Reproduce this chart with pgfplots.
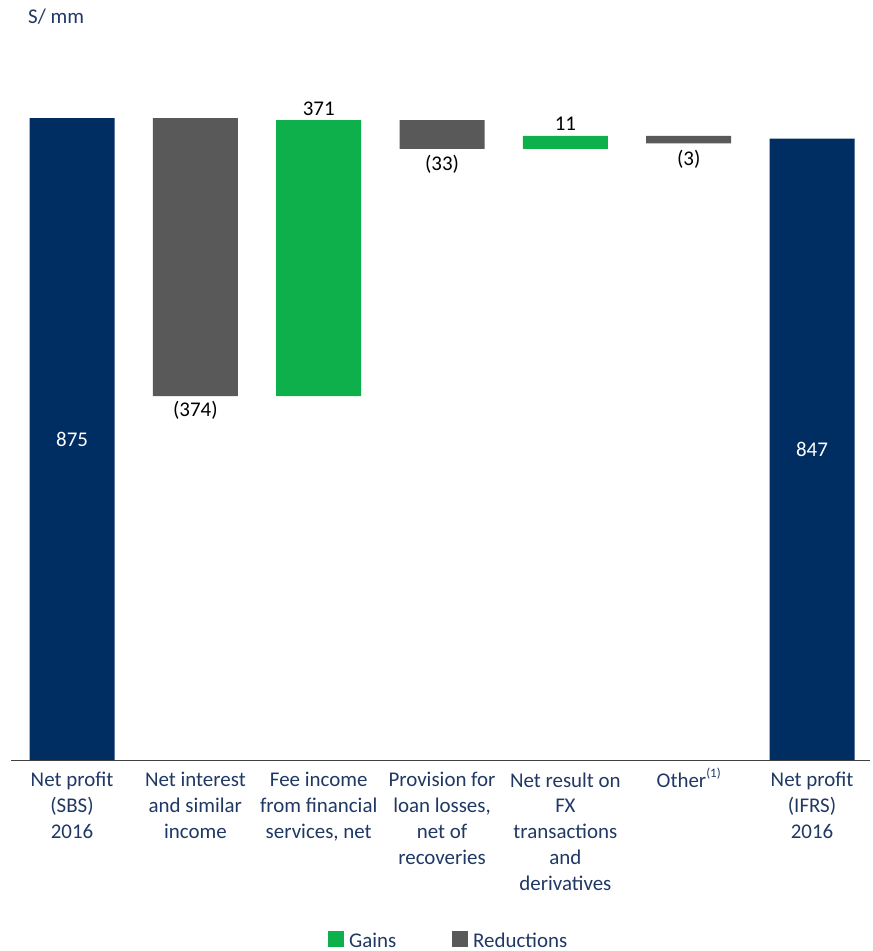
\documentclass[border=0pt]{standalone}
\usepackage{fontspec}
\setmainfont{Carlito}
\usepackage{pgfplots}
\pgfplotsset{compat=1.18}
\definecolor{navy}{HTML}{002D62}
\definecolor{rgray}{HTML}{595959}
\definecolor{rgreen}{HTML}{0DB04B}
\definecolor{txt}{HTML}{1F3864}
\definecolor{axgray}{HTML}{404040}
\newcommand{\bigf}{\fontsize{21}{26}\selectfont}
\newcommand{\supone}{\smash{\raisebox{0.45em}{\fontsize{13}{13}\selectfont(1)}}}
\begin{document}
\begin{tikzpicture}
\path[use as bounding box] (0bp,0bp) rectangle (873bp,951bp);
\begin{axis}[
  at={(11bp,191bp)}, anchor=south west,
  scale only axis, width=859bp, height=733.7bp,
  xmin=-0.495, xmax=6.47, ymin=0, ymax=1000,
  ybar stacked, bar width=85bp,
  axis x line*=bottom, axis y line=none,
  x axis line style={-, draw=axgray, line width=1pt},
  xtick={0,1,2,3,4,5,6}, major tick length=0pt,
  xticklabels={{Net profit\\(SBS)\\2016},{Net interest\\and similar\\income},{Fee income\\from financial\\services, net},{Provision for\\loan losses,\\net of\\recoveries},{Net result on\\FX\\transactions\\and\\derivatives},{Other\supone},{Net profit\\(IFRS)\\2016}},
  xticklabel style={align=center, text=txt, font=\bigf, anchor=north, yshift=-9bp, text depth=0.25em},
  ytick=\empty,
  clip=false,
]
\addplot[draw=none, fill=white, fill opacity=0] coordinates {(0,0) (1,496) (2,496) (3,833) (4,833) (5,840.5) (6,0)};
\addplot[draw=none, fill=navy] coordinates {(0,875) (1,0) (2,0) (3,0) (4,0) (5,0) (6,847)};
\addplot[draw=none, fill=rgray] coordinates {(0,0) (1,379) (2,0) (3,39) (4,0) (5,10) (6,0)};
\addplot[draw=none, fill=rgreen] coordinates {(0,0) (1,0) (2,376) (3,0) (4,17.5) (5,0) (6,0)};
\coordinate (l0) at (axis cs:0,437.5);
\coordinate (l6) at (axis cs:6,423.5);
\coordinate (l1) at (axis cs:1,496);
\coordinate (l2) at (axis cs:2,872);
\coordinate (l3) at (axis cs:3,833);
\coordinate (l4) at (axis cs:4,850.5);
\coordinate (l5) at (axis cs:5,840.5);
\end{axis}
\node[text=white, font=\bigf] at (l0) {875};
\node[text=white, font=\bigf] at (l6) {847};
\node[anchor=north, font=\bigf, yshift=-2bp] at (l1) {(374)};
\node[anchor=south, font=\bigf, yshift=1bp] at (l2) {371};
\node[anchor=north, font=\bigf, yshift=-3bp] at (l3) {(33)};
\node[anchor=south, font=\bigf, yshift=2bp] at (l4) {11};
\node[anchor=north, font=\bigf, yshift=-3bp] at (l5) {(3)};
\node[anchor=west, text=txt, font=\bigf, inner sep=0pt] at (28bp,934bp) {S/ mm};
\fill[rgreen] (328bp,4bp) rectangle (344bp,20bp);
\node[anchor=west, text=txt, font=\bigf, inner sep=0pt] at (349bp,11bp) {Gains};
\fill[rgray] (452bp,4bp) rectangle (468bp,20bp);
\node[anchor=west, text=txt, font=\bigf, inner sep=0pt] at (473bp,11bp) {Reductions};
\end{tikzpicture}
\end{document}
